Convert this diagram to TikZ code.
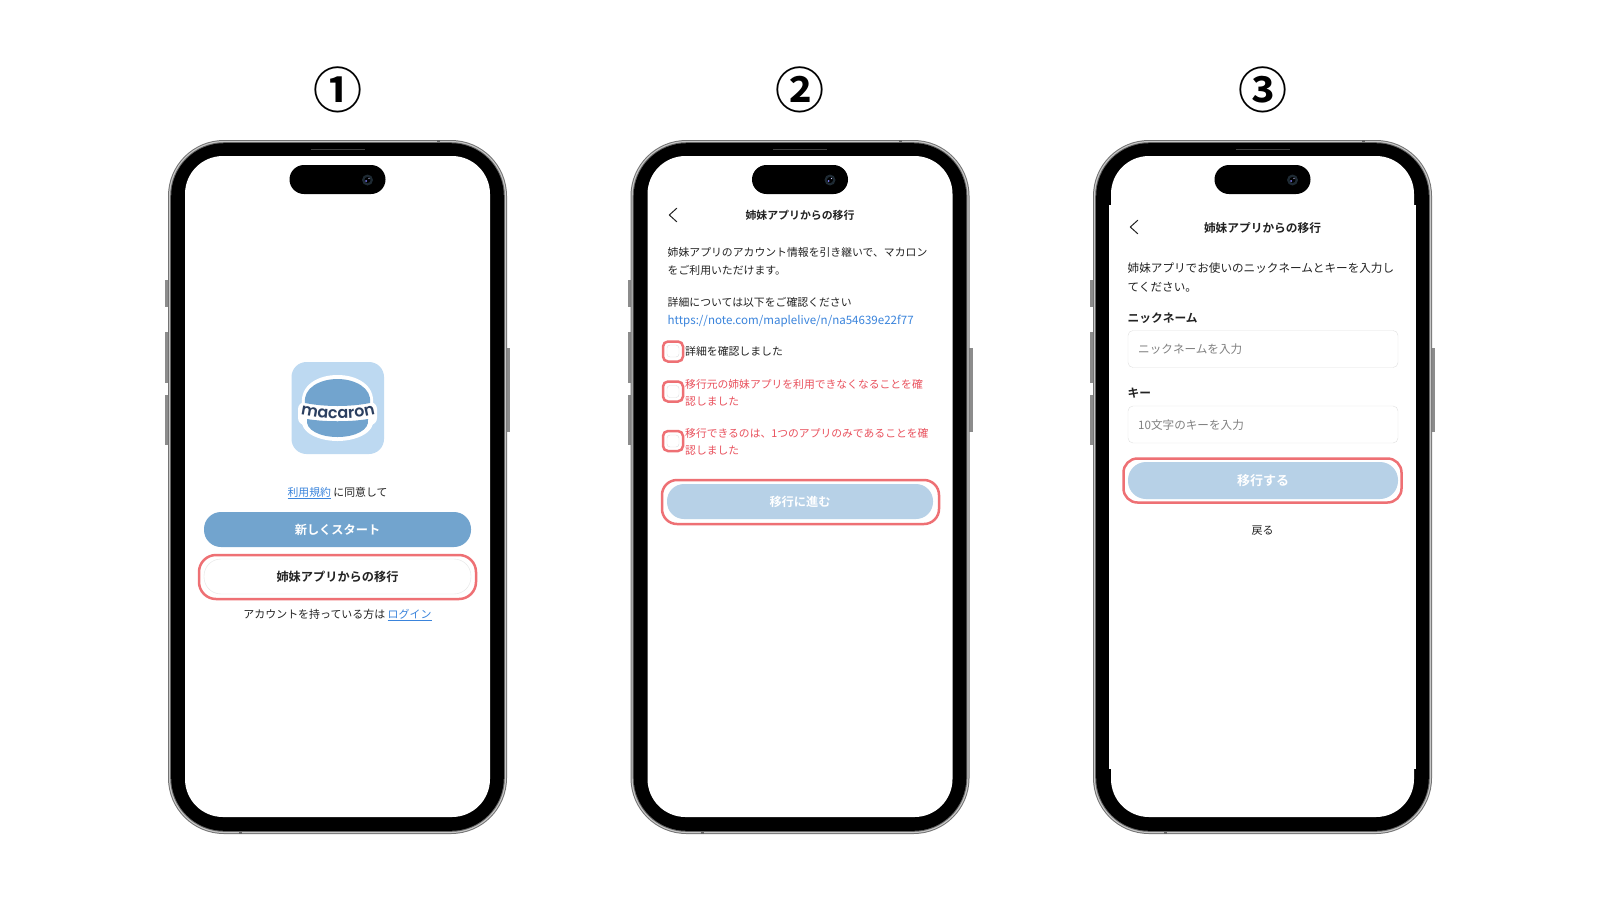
\documentclass[tikz,border=0pt]{standalone}
\usepackage{fontspec}
\setmainfont{Noto Sans CJK JP}[BoldFont={Noto Sans CJK JP Bold}]
\newfontfamily\logofont{Poppins SemiBold}
\usetikzlibrary{decorations.text}
\definecolor{bluebtn}{HTML}{72A4CE}
\definecolor{paleblue}{HTML}{B7D1E7}
\definecolor{iconblue}{HTML}{BDD9F1}
\definecolor{navy}{HTML}{2B3F60}
\definecolor{markred}{HTML}{EE7074}
\definecolor{warnred}{HTML}{E9505C}
\definecolor{linkblue}{HTML}{3A84DC}
\definecolor{ink}{HTML}{222222}
\definecolor{lensring}{HTML}{1E2A33}
\tikzset{%
  % Specifications for style of nodes:
  base/.style = {
    inner sep=0pt,
    text height=10pt,
    text depth=2pt,
    text=ink,
    font=\fontsize{10.85pt}{13pt}\selectfont
  },
  textline/.style={base, anchor=west},
  warn/.style={textline, text=warnred, font=\fontsize{10.8pt}{13pt}\selectfont},
  heading/.style={base, font=\fontsize{11pt}{13pt}\selectfont\bfseries},
  pillbtn/.style={base, rectangle, rounded corners=17pt, text depth=0pt, minimum width=267pt, minimum height=35pt,
    font=\fontsize{12.2pt}{14pt}\selectfont\bfseries},
  redmark/.style={rectangle, draw=markred, line width=2.5pt, rounded corners=13pt},
  markbox/.style={redmark, rounded corners=5pt, minimum width=20pt, minimum height=20pt},
  tickbox/.style={rectangle, draw=black!12, fill=white, rounded corners=3pt, minimum width=12pt, minimum height=12pt},
  inputbox/.style={base, rectangle, draw=black!12, rounded corners=5pt, minimum width=270pt, minimum height=37pt},
  hint/.style={textline, text=black!50, font=\fontsize{11.6pt}{13pt}\selectfont},
  backarrow/.style={draw=ink, line width=1pt, line cap=round, line join=round},
  chevron/.style={inner sep=0pt, minimum width=7pt, minimum height=13pt},
  linktext/.style={text=linkblue},
}

\begin{document}
\begin{tikzpicture}[x=1pt, y=-1pt]
  \useasboundingbox[fill=white] (0,0) rectangle (1600,900);
  % phone bodies
  \foreach \i/\cx/\num/\sw in {1/337.5/①/152.5, 2/800/②/152.5, 3/1262.5/③/151.5} {
    \begin{scope}[shift={(\cx,0)}]
      \node (badge\i) [inner sep=0pt, font=\fontsize{49pt}{49pt}\selectfont\bfseries] at (0,90) {\num};
      % side keys
      \fill[black!45] (-172.5,280) rectangle (-168,307);
      \fill[black!45] (-172.5,332) rectangle (-168,383);
      \fill[black!45] (-172.5,395) rectangle (-168,445);
      \fill[black!45] (168,348) rectangle (172.5,432);
      % frame
      \fill[black!55, rounded corners=56pt] (-169.5,140) rectangle (169.5,834);
      \fill[black!22, rounded corners=55pt] (-168.5,141) rectangle (168.5,833);
      \fill[black!60, rounded corners=54pt] (-167.3,142.2) rectangle (167.3,831.8);
      \fill[black, rounded corners=53pt] (-166.3,143.2) rectangle (166.3,830.8);
      \fill[black!60] (99,140) rectangle (102,143);
      \fill[black!60] (-99,831) rectangle (-96,834);
      \fill[white, rounded corners=38pt] (-\sw,156) rectangle (\sw,817);
      % island
      \draw[black!75, line width=1pt] (-27,149) -- (27,149);
      \fill[black, rounded corners=14.5pt] (-48,165) rectangle (48,194);
      \fill[lensring] (30,180) circle (5.5pt);
      \fill[black] (30,180) circle (3pt);
      \fill[blue!50!white] (28.5,181) circle (1pt);
      \fill[white!80!blue] (31.5,178.5) circle (0.6pt);
    \end{scope}
  }
  \fill[white] (1109,205) rectangle (1416,769);

  % first screen: icon
  \fill[iconblue, rounded corners=15pt] (291.5,362) rectangle (384,454);
  \fill[white] (302,404) .. controls (300,385) and (318,375) .. (337.5,375)
    .. controls (357,375) and (375,385) .. (373,404)
    -- (373,420) .. controls (375,432) and (357,441) .. (337.5,441)
    .. controls (318,441) and (300,432) .. (302,420) -- cycle;
  \fill[white, rounded corners=7pt] (298,402) rectangle (377,425);
  \fill[bluebtn] (305,403) .. controls (303,388) and (320,379) .. (337.5,379)
    .. controls (355,379) and (372,388) .. (370,403)
    .. controls (350,407) and (325,407) .. (305,403) -- cycle;
  \fill[bluebtn] (307,419) .. controls (325,422) and (350,422) .. (368,419)
    .. controls (370,430) and (355,437) .. (337.5,437)
    .. controls (320,437) and (305,430) .. (307,419) -- cycle;
  \path[decorate, decoration={text along path, text align=center,
      text={|\logofont\fontsize{16pt}{16pt}\selectfont\color{navy}|macaron}}]
    (299.5,414) .. controls (320,420) and (356,420) .. (376.5,414);
  % first screen: controls
  \node (terms) [base] at (337.5,492)
    {\textcolor{linkblue}{\underline{利用規約}} に同意して};
  \node (startbtn) [pillbtn, fill=bluebtn, text=white] at (337.5,529.5) {新しくスタート};
  \node (movebtn) [pillbtn, draw=black!10, fill=white] at (337.5,576.5) {姉妹アプリからの移行};
  \node (movemark) [redmark, minimum width=277pt, minimum height=44pt, rounded corners=17pt] at (337.5,577) {};
  \node (login) [base, font=\fontsize{10.95pt}{13pt}\selectfont] at (337.5,614)
    {アカウントを持っている方は \textcolor{linkblue}{\underline{ログイン}}};

  % second screen
  \node (backa) [chevron] at (673,215) {};
  \draw[backarrow] (backa.north east) -- (backa.west) -- (backa.south east);
  \node (titlea) [heading, font=\fontsize{10.9pt}{13pt}\selectfont\bfseries] at (800,215) {姉妹アプリからの移行};
  \node (introa) [textline] at (667.5,252.5) {姉妹アプリのアカウント情報を引き継いで、マカロン};
  \node (introb) [textline] at (667.5,270.5) {をご利用いただけます。};
  \node (detail) [textline] at (667.5,302) {詳細については以下をご確認ください};
  \node (url) [textline, linktext, font=\fontsize{11.55pt}{13pt}\selectfont] at (667.5,320) {https://note.com/maplelive/n/na54639e22f77};
  \node (tickd) [tickbox] at (673,351) {};
  \node (tickdm) [markbox] at (673,351.5) {};
  \node (checkd) [textline] at (685,351) {詳細を確認しました};
  \node (ticks) [tickbox] at (673,391.5) {};
  \node (ticksm) [markbox] at (673,391.5) {};
  \node (checksa) [warn] at (685,384) {移行元の姉妹アプリを利用できなくなることを確};
  \node (checksb) [warn] at (685,401.5) {認しました};
  \node (ticko) [tickbox] at (673,441) {};
  \node (tickom) [markbox] at (673,441) {};
  \node (checkoa) [warn] at (685,433) {移行できるのは、1つのアプリのみであることを確};
  \node (checkob) [warn] at (685,450.5) {認しました};
  \node (nextbtn) [pillbtn, fill=paleblue, text=white, minimum width=266pt] at (800,501.5) {移行に進む};
  \node (nextmark) [redmark, minimum width=277pt, minimum height=44pt, rounded corners=15pt] at (800.5,502) {};

  % third screen
  \node (backb) [chevron] at (1134,227) {};
  \draw[backarrow] (backb.north east) -- (backb.west) -- (backb.south east);
  \node (titleb) [heading, font=\fontsize{11.7pt}{13pt}\selectfont\bfseries] at (1262.5,228) {姉妹アプリからの移行};
  \node (asta) [textline, font=\fontsize{11.6pt}{13pt}\selectfont] at (1127.5,268) {姉妹アプリでお使いのニックネームとキーを入力し};
  \node (astb) [textline, font=\fontsize{11.6pt}{13pt}\selectfont] at (1127.5,287) {てください。};
  \node (nicklabel) [textline, font=\fontsize{11.7pt}{13pt}\selectfont\bfseries] at (1127.5,318) {ニックネーム};
  \node (nickinput) [inputbox] at (1263,349) {};
  \node (nickhint) [hint] at (1138,349.5) {ニックネームを入力};
  \node (keylabel) [textline, font=\fontsize{11.7pt}{13pt}\selectfont\bfseries] at (1127.5,393) {キー};
  \node (keyinput) [inputbox] at (1263,424.5) {};
  \node (keyhint) [hint] at (1138,425) {10文字のキーを入力};
  \node (gobtn) [pillbtn, fill=paleblue, text=white, rounded corners=18pt, minimum width=270pt, minimum height=37pt,
    font=\fontsize{13pt}{14pt}\selectfont\bfseries] at (1263,480.5) {移行する};
  \node (gomark) [redmark, minimum width=278pt, minimum height=44pt, rounded corners=14pt] at (1262.5,480.5) {};
  \node (returnlink) [base, font=\fontsize{11pt}{13pt}\selectfont] at (1262.5,530) {戻る};
\end{tikzpicture}
\end{document}
